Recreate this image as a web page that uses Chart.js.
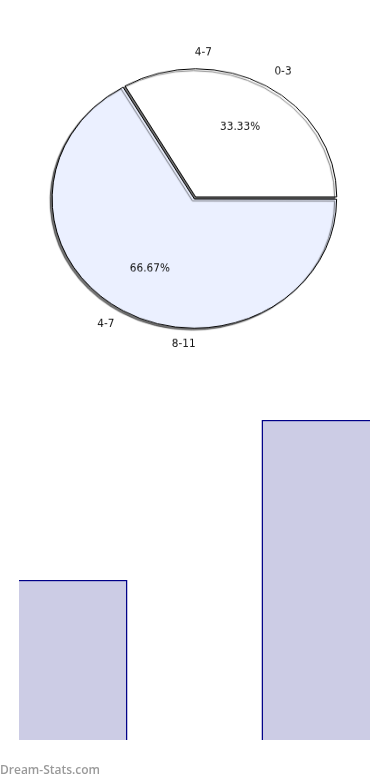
<!DOCTYPE html>
<html>
<head>
<meta charset="utf-8">
<script src="https://cdn.jsdelivr.net/npm/chart.js@4/dist/chart.umd.min.js"></script>
<style>
  html, body { margin: 0; padding: 0; background: #fff; width: 390px; height: 780px; overflow: hidden; }
  #pieWrap { position: absolute; left: 0; top: 0; width: 390px; height: 436px; transform: scaleY(0.908); transform-origin: 0 0; }
  #barWrap { position: absolute; left: 0; top: 400px; width: 390px; height: 380px; }
  #mark { position: absolute; left: 0; top: 761px; font: 600 12px "Open Sans", sans-serif; color: #9a9a9a; }
</style>
</head>
<body>
<div id="pieWrap"><canvas id="pie" width="390" height="436"></canvas></div>
<div id="barWrap"><canvas id="bar" width="390" height="380"></canvas></div>
<div id="mark">Dream-Stats.com</div>
<script>
// ---- data ----
const categories = ['0-3', '4-7', '8-11'];
const counts = [1, 0, 2];
const yTicks = [0, 1, 2];

const Y_SCALE = 0.908;

// outer category labels of the pie: [category index, angle in degrees, radius factor]
const outerLabelPlacement = [
  [1, -87, 1.134],
  [0, -57.6, 1.165],
  [1, 122.7, 1.17],
  [2, 94, 1.144]
];

const total = counts.reduce((a, b) => a + b, 0);

const pieShadow = {
  id: 'pieShadow',
  beforeDatasetsDraw(chart) {
    const c = chart.ctx;
    c.save();
    c.shadowColor = 'rgba(0,0,0,0.55)';
    c.shadowOffsetX = -2;
    c.shadowOffsetY = 2;
    c.shadowBlur = 1;
  },
  afterDatasetsDraw(chart) {
    chart.ctx.restore();
  }
};

function drawText(c, txt, x, y) {
  c.save();
  c.translate(x, y);
  c.scale(1, 1 / Y_SCALE);
  c.fillText(txt, 0, 0);
  c.restore();
}

const pieLabels = {
  id: 'pieLabels',
  afterDraw(chart) {
    const c = chart.ctx;
    const meta = chart.getDatasetMeta(0);
    c.save();
    c.font = '10.5px "DejaVu Sans", sans-serif';
    c.fillStyle = '#111';
    c.textAlign = 'center';
    c.textBaseline = 'middle';
    meta.data.forEach((arc, i) => {
      if (!counts[i]) return;
      const mid = (arc.startAngle + arc.endAngle) / 2;
      const r = arc.outerRadius * 0.64;
      const pct = (counts[i] / total * 100).toFixed(2) + '%';
      drawText(c, pct, arc.x + Math.cos(mid) * r, arc.y + Math.sin(mid) * r);
    });
    const a0 = meta.data[0];
    outerLabelPlacement.forEach(([idx, deg, f]) => {
      const ang = deg * Math.PI / 180;
      const r = a0.outerRadius * f;
      drawText(c, categories[idx], a0.x + Math.cos(ang) * r, a0.y + Math.sin(ang) * r);
    });
    c.restore();
  }
};

new Chart(document.getElementById('pie'), {
  type: 'pie',
  data: {
    labels: categories,
    datasets: [{
      data: counts,
      backgroundColor: ['#ffffff', '#ffffff', '#ebf0ff'],
      borderColor: '#000000',
      borderWidth: 1,
      offset: 5,
      radius: 141,
      rotation: -30
    }]
  },
  options: {
    responsive: false,
    animation: false,
    devicePixelRatio: 1,
    layout: { padding: 0 },
    plugins: { legend: { display: false }, tooltip: { enabled: false } }
  },
  plugins: [pieShadow, pieLabels]
});

new Chart(document.getElementById('bar'), {
  type: 'bar',
  data: {
    labels: categories,
    datasets: [{
      data: counts,
      backgroundColor: '#cccce5',
      borderColor: '#000088',
      borderSkipped: false,
      borderWidth: (ctx) => ctx.dataIndex === 0
        ? { top: 1.5, right: 1.5, bottom: 0, left: 0 }
        : { top: 1.5, right: 0, bottom: 0, left: 1.5 },
      categoryPercentage: 1,
      barPercentage: 0.895
    }]
  },
  options: {
    responsive: false,
    animation: false,
    devicePixelRatio: 1,
    layout: { padding: { top: 20, bottom: 40, left: 12.625, right: 13.625 } },
    scales: {
      x: { display: false, offset: true },
      y: { display: false, min: yTicks[0], max: yTicks[yTicks.length - 1] }
    },
    plugins: { legend: { display: false }, tooltip: { enabled: false } }
  }
});
</script>
</body>
</html>
